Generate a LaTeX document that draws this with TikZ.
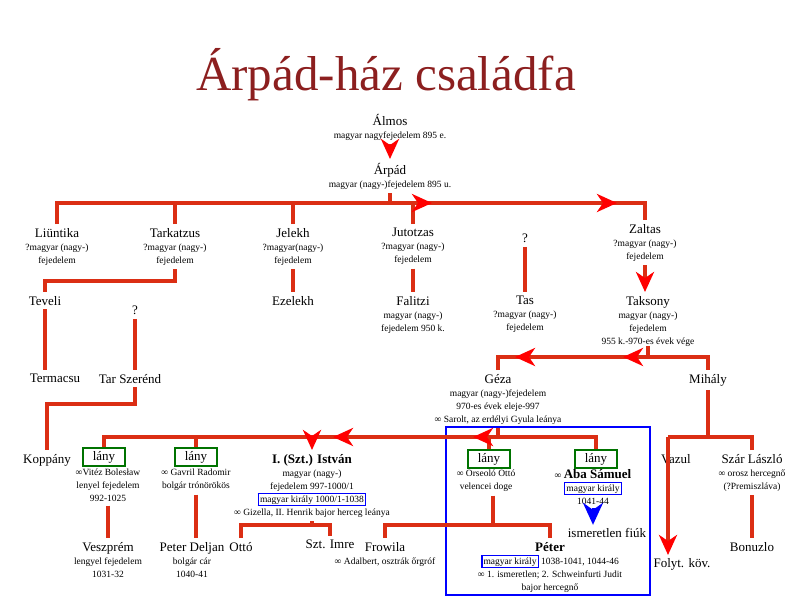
\documentclass[tikz,border=0pt]{standalone}
\usepackage{fontspec}
\setmainfont{Liberation Serif}
\usetikzlibrary{arrows.meta,calc}
\definecolor{LineClr}{rgb}{0.86,0.18,0.08}
\definecolor{TitleClr}{rgb}{0.55,0.12,0.12}
\definecolor{BoxGrn}{rgb}{0.0,0.45,0.0}
\newcommand{\nm}[1]{{\fontsize{13}{13}\selectfont #1}}
\newcommand{\kir}[1]{{\setlength\fboxrule{1.3pt}\setlength\fboxsep{1pt}\fcolorbox{blue}{white}{#1}}}
\tikzset{
  pn/.style={anchor=north,align=center,inner sep=0pt,outer sep=4pt,font=\fontsize{9.5}{13}\selectfont},
  lanybox/.style={draw=BoxGrn,line width=1.5pt,minimum width=42pt,minimum height=18pt,inner sep=0pt,font=\fontsize{13}{13}\selectfont},
  rl/.style={draw=LineClr,line width=3.5pt},
  arr/.style={rl,-{Stealth[red,length=20pt,width=18pt,inset=6pt]}},
}
\begin{document}
\begin{tikzpicture}[x=1pt,y=-1pt]
\useasboundingbox (0,0) rectangle (800,600);

\node[text=TitleClr,font=\fontsize{49}{52}\selectfont] (title) at (386,75) {Árpád-ház családfa};

% persons
\node[pn] (almos) at (390,110) {\nm{Álmos}\\magyar nagyfejedelem 895 e.};
\node[pn] (arpad) at (390,159) {\nm{Árpád}\\magyar (nagy-)fejedelem 895 u.};

\node[pn] (liuntika) at (57,224) {\nm{Liüntika}\\?magyar (nagy-)\\fejedelem};
\node[pn] (tarkatzus) at (175,224) {\nm{Tarkatzus}\\?magyar (nagy-)\\fejedelem};
\node[pn] (jelekh) at (293,224) {\nm{Jelekh}\\?magyar(nagy-)\\fejedelem};
\node[pn] (jutotzas) at (413,224) {\nm{Jutotzas}\\?magyar (nagy-)\\fejedelem};
\node[pn] (qa) at (525,230) {\nm{?}};
\node[pn] (zaltas) at (645,220) {\nm{Zaltas}\\?magyar (nagy-)\\fejedelem};

\node[pn] (teveli) at (45,292) {\nm{Teveli}};
\node[pn] (ezelekh) at (293,292) {\nm{Ezelekh}};
\node[pn] (falitzi) at (413,292) {\nm{Falitzi}\\magyar (nagy-)\\fejedelem 950 k.};
\node[pn] (tas) at (525,292) {\nm{Tas}\\?magyar (nagy-)\\fejedelem};
\node[pn] (taksony) at (648,292) {\nm{Taksony}\\magyar (nagy-)\\fejedelem\\955 k.-970-es évek vége};
\node[pn] (qb) at (135,302) {\nm{?}};

\node[pn] (termacsu) at (55,370) {\nm{Termacsu}};
\node[pn] (tarszerend) at (130,370) {\nm{Tar Szerénd}};
\node[pn] (geza) at (498,370) {\nm{Géza}\\magyar (nagy-)fejedelem\\970-es évek eleje-997\\∞ Sarolt, az erdélyi Gyula leánya};
\node[pn] (mihaly) at (708,370) {\nm{Mihály}};

\node[pn] (koppany) at (47,450) {\nm{Koppány}};
\node[lanybox] (lanya) at (104,457) {lány};
\node[pn] (bolesl) at (108,465) {∞Vitéz Bolesław\\lenyel fejedelem\\992-1025};
\node[lanybox] (lanyb) at (196,457) {lány};
\node[pn] (radomir) at (196,465) {∞ Gavril Radomir\\bolgár trónörökös};
\node[pn] (istvan) at (312,450) {\nm{\textbf{I. (Szt.) István}}\\magyar (nagy-)\\fejedelem 997-1000/1\\\kir{magyar király 1000/1-1038}\\∞ Gizella, II. Henrik bajor herceg leánya};
\node[lanybox] (lanyc) at (489,459) {lány};
\node[pn] (orseolo) at (486,466) {∞ Orseoló Ottó\\velencei doge};
\node[lanybox] (lanyd) at (596,459) {lány};
\node[pn] (aba) at (593,465) {∞ \nm{\textbf{Aba Sámuel}}\\\kir{magyar király}\\1041-44};
\node[pn] (vazul) at (676,450) {\nm{Vazul}};
\node[pn] (szar) at (752,450) {\nm{Szár László}\\∞ orosz hercegnő\\(?Premiszláva)};

\node[font=\fontsize{13}{13}\selectfont] (ismeretlen) at (607,533) {ismeretlen fiúk};
\node[pn] (veszprem) at (108,538) {\nm{Veszprém}\\lengyel fejedelem\\1031-32};
\node[pn] (deljan) at (192,538) {\nm{Peter Deljan}\\bolgár cár\\1040-41};
\node[pn] (otto) at (241,538) {\nm{Ottó}};
\node[pn] (imre) at (330,536) {\nm{Szt. Imre}};
\node[pn] (frowila) at (385,538) {\nm{Frowila}\\∞ Adalbert, osztrák őrgróf};
\node[pn] (peter) at (550,538) {\nm{\textbf{Péter}}\\\kir{magyar király} 1038-1041, 1044-46\\∞ 1. ismeretlen; 2. Schweinfurti Judit\\bajor hercegnő};
\node[font=\fontsize{13}{13}\selectfont] (folyt) at (682,564) {Folyt. köv.};
\node[pn] (bonuzlo) at (752,538) {\nm{Bonuzlo}};

\draw[blue,line width=1.5pt] (446,427) rectangle (650,595);

% bus lines
\coordinate (busA) at (390,203);
\coordinate (busT) at (648,357);
\coordinate (busG) at (498,437);
\coordinate (busM) at (708,437);
\coordinate (busP) at (493,525);
\coordinate (busI) at (312,525);

\draw[arr] (almos.south) -- (arpad.north);
\draw[rl] (arpad.south) -- (busA);
\draw[rl] (liuntika.north) -- (liuntika.north |- busA) -- (zaltas.north |- busA) -- (zaltas.north);
\foreach \n in {tarkatzus,jelekh,jutotzas}
  \draw[rl] (\n.north) -- (\n.north |- busA);
\draw[arr] (400,203) -- (432,203);
\draw[arr] (585,203) -- (617,203);

\draw[rl] (tarkatzus.south) -- ++(0,12) -| (teveli.north);
\draw[rl] (jelekh.south) -- (ezelekh.north);
\draw[rl] (jutotzas.south) -- (falitzi.north);
\draw[rl] (qa.south) -- (tas.north);
\draw[arr] (zaltas.south) -- (taksony.north -| zaltas.south);
\draw[rl] (teveli.south) -- (termacsu.north -| teveli.south);
\draw[rl] (qb.south) -- (tarszerend.north -| qb.south);
\draw[rl] (tarszerend.south -| qb.south) -- ++(0,17) -| (koppany.north);

\draw[rl] (busT |- 0,346) -- (busT);
\draw[rl] (geza.north) -- (geza.north |- busT) -- (mihaly.north |- busT) -- (mihaly.north);
\draw[arr] (645,357) -- (515,357);
\draw[arr] (690,357) -- (623,357);

\draw[rl] (geza.south) -- (busG);
\draw[rl] (lanya.north) -- (lanya.north |- busG) -- (lanyd.north |- busG) -- (lanyd.north);
\draw[rl] (lanyb.north) -- (lanyb.north |- busG);
\draw[rl] (lanyc.north) -- (lanyc.north |- busG);
\draw[arr] (istvan.north |- busG) -- (istvan.north);
\draw[arr] (370,437) -- (333,437);
\draw[arr] (505,437) -- (473,437);

\draw[rl] (bolesl.south) -- (veszprem.north -| bolesl.south);
\draw[rl] (radomir.south) -- (deljan.north -| radomir.south);
\draw[rl] (istvan.south) -- (busI);
\draw[rl] (otto.north) -- (otto.north |- busI) -- (imre.north |- busI) -- (imre.north);
\draw[rl] (orseolo.south -| busP) -- (busP);
\draw[rl] (frowila.north) -- (frowila.north |- busP) -- (peter.north |- busP) -- (peter.north);
\draw[blue,line width=3pt,-{Stealth[blue,length=22pt,width=20pt,inset=7pt]}] (aba.south) -- (ismeretlen.north -| aba.south);

\draw[rl] (mihaly.south) -- (busM);
\draw[rl] (szar.north) -- (szar.north |- busM) -- (668,437);
\draw[arr] (668,437) -- (668,555);
\draw[rl] (szar.south) -- (bonuzlo.north);
\end{tikzpicture}
\end{document}
